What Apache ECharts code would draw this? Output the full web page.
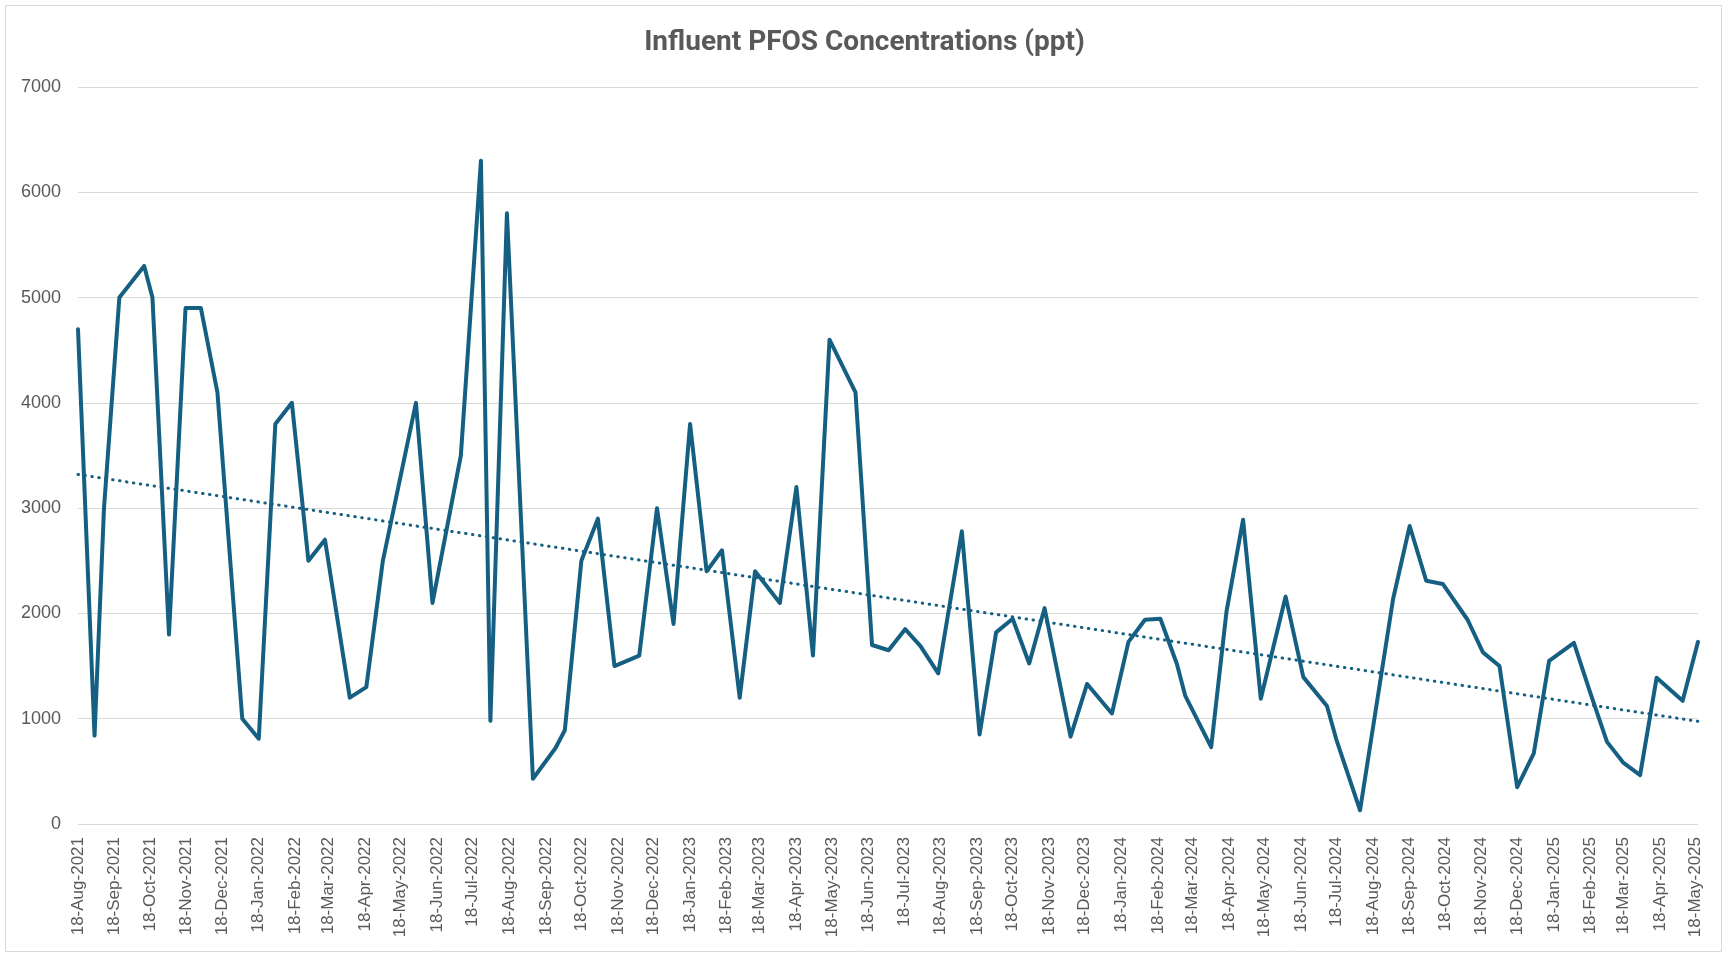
<!DOCTYPE html>
<html>
<head>
<meta charset="utf-8">
<title>Influent PFOS Concentrations</title>
<script src="https://cdn.jsdelivr.net/npm/echarts@6/dist/echarts.min.js"></script>
<style>
html, body { margin: 0; padding: 0; background: #fff; }
#chart { width: 1729px; height: 953px; }
</style>
</head>
<body>
<div id="chart"></div>
<script>
// sample dates and PFOS values
var sampleDates = [
    '2021-08-18', '2021-09-01', '2021-09-09', '2021-09-22', '2021-10-13', '2021-10-20',
    '2021-11-03', '2021-11-17', '2021-11-30', '2021-12-14', '2022-01-04', '2022-01-18',
    '2022-02-01', '2022-02-15', '2022-03-01', '2022-03-15', '2022-04-05', '2022-04-19',
    '2022-05-03', '2022-05-31', '2022-06-14', '2022-07-08', '2022-07-25', '2022-08-02',
    '2022-08-16', '2022-09-07', '2022-09-26', '2022-10-04', '2022-10-18', '2022-11-01',
    '2022-11-15', '2022-12-06', '2022-12-21', '2023-01-04', '2023-01-18', '2023-02-01',
    '2023-02-14', '2023-03-01', '2023-03-14', '2023-04-04', '2023-04-18', '2023-05-02',
    '2023-05-16', '2023-06-07', '2023-06-21', '2023-07-05', '2023-07-19', '2023-08-01',
    '2023-08-16', '2023-09-05', '2023-09-20', '2023-10-04', '2023-10-18', '2023-11-01',
    '2023-11-14', '2023-12-06', '2023-12-20', '2024-01-10', '2024-01-24', '2024-02-07',
    '2024-02-20', '2024-03-05', '2024-03-12', '2024-04-03', '2024-04-16', '2024-04-30',
    '2024-05-15', '2024-06-05', '2024-06-20', '2024-07-10', '2024-07-18', '2024-08-07',
    '2024-09-04', '2024-09-18', '2024-10-02', '2024-10-16', '2024-11-06', '2024-11-19',
    '2024-12-03', '2024-12-18', '2025-01-01', '2025-01-14', '2025-02-04', '2025-02-18',
    '2025-03-04', '2025-03-18', '2025-04-01', '2025-04-15', '2025-05-07', '2025-05-20'
];
var pfosValues = [
    4700, 840, 3000, 5000, 5300, 5000,
    1800, 4900, 4900, 4100, 1000, 810,
    3800, 4000, 2500, 2700, 1200, 1300,
    2500, 4000, 2100, 3500, 6300, 980,
    5800, 430, 720, 890, 2500, 2900,
    1500, 1600, 3000, 1900, 3800, 2400,
    2600, 1200, 2400, 2100, 3200, 1600,
    4600, 4100, 1700, 1650, 1850, 1690,
    1430, 2780, 850, 1820, 1950, 1525,
    2050, 830, 1330, 1050, 1730, 1940,
    1950, 1520, 1220, 730, 2020, 2890,
    1190, 2160, 1395, 1120, 800, 130,
    2140, 2830, 2310, 2280, 1940, 1630,
    1500, 350, 670, 1550, 1720, 1240,
    780, 580, 465, 1390, 1170, 1730
];

// linear trendline ends
var trendDates = ['2021-08-18', '2025-05-20'];
var trendValues = [3320, 975];

var tickDates = [
    '2021-08-18', '2021-09-18', '2021-10-18', '2021-11-18', '2021-12-18',
    '2022-01-18', '2022-02-18', '2022-03-18', '2022-04-18', '2022-05-18', '2022-06-18',
    '2022-07-18', '2022-08-18', '2022-09-18', '2022-10-18', '2022-11-18', '2022-12-18',
    '2023-01-18', '2023-02-18', '2023-03-18', '2023-04-18', '2023-05-18', '2023-06-18',
    '2023-07-18', '2023-08-18', '2023-09-18', '2023-10-18', '2023-11-18', '2023-12-18',
    '2024-01-18', '2024-02-18', '2024-03-18', '2024-04-18', '2024-05-18', '2024-06-18',
    '2024-07-18', '2024-08-18', '2024-09-18', '2024-10-18', '2024-11-18', '2024-12-18',
    '2025-01-18', '2025-02-18', '2025-03-18', '2025-04-18', '2025-05-18'
];
var monthNames = ['Jan', 'Feb', 'Mar', 'Apr', 'May', 'Jun', 'Jul', 'Aug', 'Sep', 'Oct', 'Nov', 'Dec'];

var lineColor = '#156082';
var textColor = '#595959';
var gridColor = '#d9d9d9';

function toTime(s) {
    var p = s.split('-');
    return new Date(+p[0], +p[1] - 1, +p[2]).getTime();
}

function fmtDate(t) {
    var d = new Date(t);
    var day = d.getDate();
    return (day < 10 ? '0' + day : day) + '-' + monthNames[d.getMonth()] + '-' + d.getFullYear();
}

var lineData = sampleDates.map(function (s, i) {
    return [toTime(s), pfosValues[i]];
});
var trendData = trendDates.map(function (s, i) {
    return [toTime(s), trendValues[i]];
});
var tickTimes = tickDates.map(toTime);

var myChart = echarts.init(document.getElementById('chart'));

var option = {
    backgroundColor: '#fff',
    animation: false,
    title: {
        text: 'Influent PFOS Concentrations (ppt)',
        left: 'center',
        top: 29,
        padding: 0,
        textStyle: {
            color: textColor,
            fontFamily: '"Liberation Sans Narrow", Roboto, sans-serif',
            fontWeight: 'bold',
            fontSize: 28
        }
    },
    graphic: [{
        type: 'rect',
        silent: true,
        shape: { x: 5.5, y: 5.5, width: 1716, height: 946 },
        style: { fill: null, stroke: gridColor, lineWidth: 1 }
    }],
    grid: {
        left: 78,
        right: 31,
        top: 87,
        bottom: 129
    },
    xAxis: {
        type: 'value',
        min: toTime('2021-08-18'),
        max: toTime('2025-05-20'),
        axisLine: { show: false },
        axisTick: { show: false },
        splitLine: { show: false },
        axisLabel: {
            customValues: tickTimes,
            rotate: 90,
            margin: 13,
            color: textColor,
            fontFamily: '"Liberation Sans", Arial, sans-serif',
            fontSize: 17,
            formatter: function (v) {
                return fmtDate(v);
            }
        }
    },
    yAxis: {
        type: 'value',
        min: 0,
        max: 7000,
        interval: 1000,
        axisLine: { show: false },
        axisTick: { show: false },
        splitLine: { lineStyle: { color: gridColor, width: 1 } },
        axisLabel: {
            margin: 17,
            color: textColor,
            fontFamily: '"Liberation Sans", Arial, sans-serif',
            fontSize: 18,
            formatter: function (v) {
                return String(v);
            }
        }
    },
    series: [{
        name: 'PFOS',
        type: 'line',
        data: lineData,
        showSymbol: false,
        symbol: 'none',
        lineStyle: {
            color: lineColor,
            width: 4,
            cap: 'round',
            join: 'round'
        },
        z: 2
    }, {
        name: 'Linear trend',
        type: 'line',
        data: trendData,
        showSymbol: false,
        symbol: 'none',
        lineStyle: {
            color: lineColor,
            width: 3,
            type: [0.5, 6.5],
            cap: 'round'
        },
        z: 3
    }]
};

myChart.setOption(option);
</script>
</body>
</html>
